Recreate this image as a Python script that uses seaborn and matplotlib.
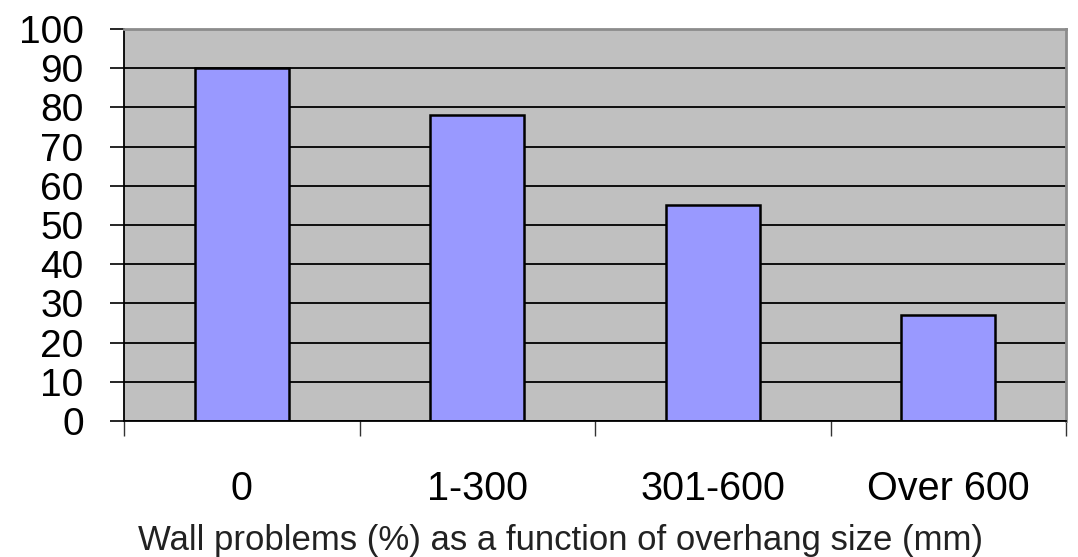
import matplotlib
matplotlib.use("Agg")
import matplotlib.pyplot as plt
import seaborn as sns
import pandas as pd

categories = ["0", "1-300", "301-600", "Over 600"]
values = [90, 78, 55, 27]
y_ticks = list(range(0, 101, 10))

BG = "#C0C0C0"
BAR = "#9999FF"

sns.set_theme(style="white")
plt.rcParams["font.family"] = ["Liberation Sans", "DejaVu Sans"]

df = pd.DataFrame({"overhang": categories, "problems": values})

fig = plt.figure(figsize=(10.78, 5.57), dpi=100)
ax = fig.add_axes([0.115, 0.244, 0.874, 0.704])
ax.set_facecolor(BG)

sns.barplot(data=df, x="overhang", y="problems", color=BAR, saturation=1,
            width=0.4, edgecolor="black", linewidth=1.8, ax=ax)

ax.set_ylim(0, 100)
ax.set_xlim(-0.5, len(categories) - 0.5)
ax.set_yticks(y_ticks)
ax.set_yticklabels([str(t) for t in y_ticks], fontsize=28, color="black")
ax.tick_params(axis="y", length=10, width=1.2, color="black", pad=19, direction="out", left=True)
ax.tick_params(axis="x", which="major", length=0, pad=35, labelsize=28.5, labelcolor="black")
ax.set_xticks([i - 0.5 for i in range(len(categories) + 1)], minor=True)
ax.tick_params(axis="x", which="minor", length=11, width=1.0, color="#333333", direction="out", bottom=True)

ax.set_axisbelow(True)
ax.grid(axis="y", color="black", linewidth=1.3)
ax.grid(axis="x", visible=False)

for side in ["left", "bottom"]:
    ax.spines[side].set_color("black")
    ax.spines[side].set_linewidth(1.3)
for side in ["top", "right"]:
    ax.spines[side].set_color("#8C8C8C")
    ax.spines[side].set_linewidth(2.0)

ax.set_ylabel("")
ax.set_xlabel("")
fig.text(0.52, 0.013, "Wall problems (%) as a function of overhang size (mm)",
         fontsize=25, color="#222222", ha="center", va="baseline")

fig.savefig("out.png", dpi=100, facecolor="white")
